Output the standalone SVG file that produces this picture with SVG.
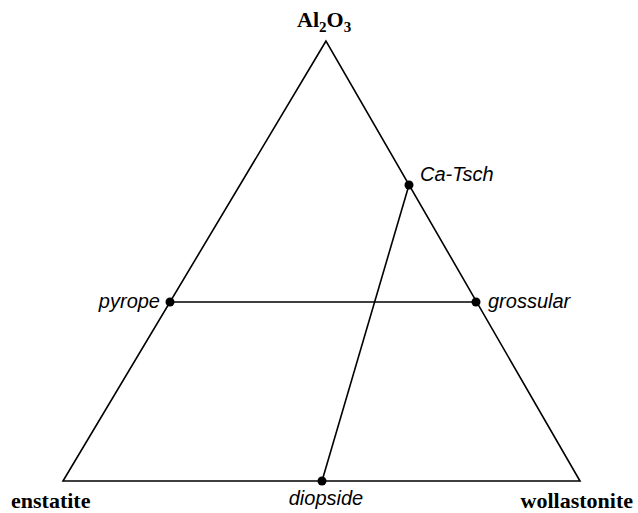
<svg xmlns="http://www.w3.org/2000/svg" width="638" height="513" viewBox="0 0 638 513">
<style>
.edge{fill:none;stroke:#000;stroke-width:1.6;stroke-linejoin:miter}
.dot{fill:#000}
.vtx{font-family:"Liberation Serif","Times New Roman",serif;font-weight:bold;font-size:22px;fill:#000}
.lbl{font-family:"Liberation Sans",Arial,sans-serif;font-style:italic;font-size:20px;fill:#000}
</style>
<rect width="638" height="513" fill="#fff"/>
<g id="connectors">
<polygon class="edge" points="326,41 63,481 580,481"/>
<line class="edge" x1="170" y1="302" x2="476" y2="302"/>
<line class="edge" x1="409" y1="185" x2="322" y2="481"/>
</g>
<g id="node-al2o3">
<text class="vtx" x="297" y="27">Al<tspan font-size="15" dy="5">2</tspan><tspan dy="-5">O</tspan><tspan font-size="15" dy="5">3</tspan></text>
</g>
<g id="node-enstatite">
<text class="vtx" x="11" y="508">enstatite</text>
</g>
<g id="node-wollastonite">
<text class="vtx" x="633" y="508" text-anchor="end">wollastonite</text>
</g>
<g id="node-catsch">
<circle class="dot" cx="409" cy="185" r="4.5"/>
<text class="lbl" x="420" y="181">Ca-Tsch</text>
</g>
<g id="node-pyrope">
<circle class="dot" cx="170" cy="302" r="4.5"/>
<text class="lbl" x="160" y="308" text-anchor="end">pyrope</text>
</g>
<g id="node-grossular">
<circle class="dot" cx="476" cy="302" r="4.5"/>
<text class="lbl" x="488" y="308">grossular</text>
</g>
<g id="node-diopside">
<circle class="dot" cx="322" cy="481" r="4.5"/>
<text class="lbl" x="326" y="505" text-anchor="middle">diopside</text>
</g>
</svg>
